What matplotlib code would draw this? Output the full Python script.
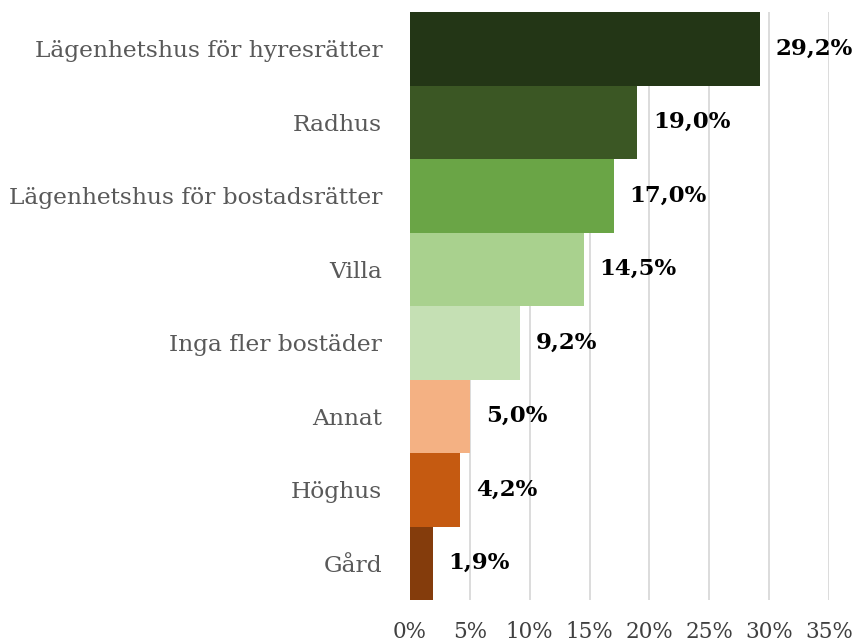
import matplotlib.pyplot as plt
import numpy as np

# data, top to bottom
categories = ['Lägenhetshus för hyresrätter', 'Radhus', 'Lägenhetshus för bostadsrätter',
              'Villa', 'Inga fler bostäder', 'Annat', 'Höghus', 'Gård']
values = [29.2, 19.0, 17.0, 14.5, 9.2, 5.0, 4.2, 1.9]
value_labels = ['29,2%', '19,0%', '17,0%', '14,5%', '9,2%', '5,0%', '4,2%', '1,9%']
bar_colors = ['#233616', '#3b5724', '#6aa546', '#a9d18e', '#c5e0b4', '#f4b183', '#c55a11', '#843c0c']
xticks = [0, 5, 10, 15, 20, 25, 30, 35]
xtick_labels = ['0%', '5%', '10%', '15%', '20%', '25%', '30%', '35%']

FONT = 'DejaVu Serif'

fig = plt.figure(figsize=(8.57, 6.43), dpi=100)
ax = fig.add_axes([410/857, 1 - 600/643, (829 - 410)/857, (600 - 12)/643])

y = np.arange(len(categories))
ax.barh(y, values, height=1.0, color=bar_colors, zorder=3)

for i in range(len(values)):
    ax.annotate(value_labels[i], (values[i], y[i]), xytext=(11.5, 0), textcoords='offset points',
                va='center', ha='left', fontsize=16.5, fontweight='bold', color='black',
                family=FONT, zorder=4)

ax.set_xlim(0, 35)
ax.set_ylim(len(categories) - 0.5, -0.5)
ax.set_xticks(xticks)
ax.set_xticklabels(xtick_labels, family=FONT, fontsize=15.5, color='#404040')
ax.set_yticks(y)
ax.set_yticklabels(categories, family=FONT, fontsize=16.8, color='#595959')
ax.tick_params(axis='x', length=0, pad=15)
ax.tick_params(axis='y', length=0, pad=20)

ax.grid(axis='x', color='#d9d9d9', linewidth=1.3, zorder=0)
for s in ax.spines.values():
    s.set_visible(False)

fig.savefig('out.png', dpi=100)
